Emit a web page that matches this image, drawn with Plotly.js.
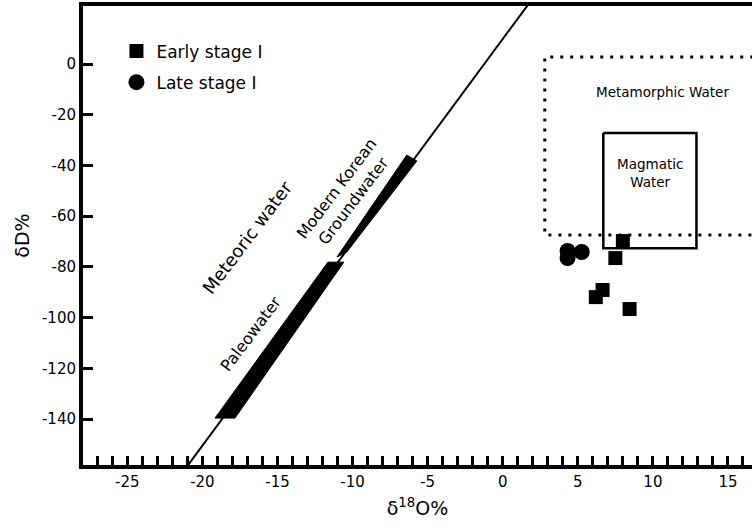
<!DOCTYPE html>
<html>
<head>
<meta charset="utf-8">
<script src="https://cdn.plot.ly/plotly-3.0.1.min.js"></script>
<style>html,body{margin:0;padding:0;background:#fff;}#chart{width:754px;height:531px;}</style>
</head>
<body>
<div id="chart"></div>
<script>
// ---- data ----
const earlyX = [8.0, 7.5, 6.65, 6.2, 8.45];
const earlyY = [-69.8, -76.5, -89.1, -91.9, -96.6];
const lateX = [4.32, 4.32, 5.26];
const lateY = [-73.7, -76.5, -74.1];

// meteoric water line end points
const mwlX = [-21.0, 1.7];
const mwlY = [-158.5, 23.5];

// paleowater band outline
const paleoX = [-19.16, -17.83, -10.58, -11.64, -19.16];
const paleoY = [-139.6, -139.6, -78.1, -78.1, -139.6];

// modern Korean groundwater band outline
const modernX = [-11.04, -10.38, -5.72, -6.39, -11.04];
const modernY = [-76.1, -74.1, -38.2, -35.9, -76.1];

// metamorphic water field (dotted)
const metaX = [30, 2.8, 2.8, 30];
const metaY = [2.76, 2.76, -67.4, -67.4];

// magmatic water field
const magX = [6.7, 12.9, 12.9, 6.7, 6.7];
const magY = [-27.2, -27.2, -72.6, -72.6, -27.2];

const yTicks = [0, -20, -40, -60, -80, -100, -120, -140];
const yTickText = ['0', '-20', '-40', '-60', '-80', '-100', '-120', '-140'];
const xTicks = [-25, -20, -15, -10, -5, 0, 5, 10, 15];
const xTickText = ['-25', '-20', '-15', '-10', '-5', '0', '5', '10', '15'];

const FONT = "DejaVu Sans";

const traces = [
  {x: metaX, y: metaY, mode: 'lines', line: {color: '#000', width: 3, dash: '3px,7px'}, showlegend: false, hoverinfo: 'skip'},
  {x: magX, y: magY, mode: 'lines', line: {color: '#000', width: 2.5}, showlegend: false, hoverinfo: 'skip'},
  {x: mwlX, y: mwlY, mode: 'lines', line: {color: '#000', width: 2}, showlegend: false, hoverinfo: 'skip'},
  {x: paleoX, y: paleoY, mode: 'lines', fill: 'toself', fillcolor: '#000', line: {color: '#000', width: 1}, showlegend: false, hoverinfo: 'skip'},
  {x: modernX, y: modernY, mode: 'lines', fill: 'toself', fillcolor: '#000', line: {color: '#000', width: 1}, showlegend: false, hoverinfo: 'skip'},
  {x: earlyX, y: earlyY, mode: 'markers', name: 'Early stage I', legendgroup: 'a',
   marker: {symbol: 'square', size: 14, color: '#000'}},
  {x: lateX, y: lateY, mode: 'markers', name: 'Late stage I', legendgroup: 'b',
   marker: {symbol: 'circle', size: 16, color: '#000'}}
];

const layout = {
  width: 754, height: 531,
  margin: {l: 83, r: 2, t: 6, b: 66},
  paper_bgcolor: '#fff', plot_bgcolor: '#fff',
  font: {family: FONT, color: '#000', size: 15},
  showlegend: true,
  legend: {x: 0.05, y: 0.94, xanchor: 'left', yanchor: 'top', bgcolor: 'rgba(0,0,0,0)',
           font: {size: 17, family: FONT}, traceorder: 'grouped', tracegroupgap: 6},
  xaxis: {
    range: [-27.95, 16.6], tickmode: 'array', tickvals: xTicks, ticktext: xTickText,
    ticks: 'inside', ticklen: 9, tickwidth: 3, tickcolor: '#000',
    minor: {tickmode: 'linear', tick0: 0, dtick: 1, ticks: 'inside', ticklen: 9, tickwidth: 3, tickcolor: '#000'},
    showline: true, linewidth: 4, linecolor: '#000', mirror: true,
    showgrid: false, zeroline: false,
    tickfont: {size: 15},
    title: {text: 'δ<sup>18</sup>O%', font: {size: 19}, standoff: 13}
  },
  yaxis: {
    range: [-158.1, 22.9], tickmode: 'array', tickvals: yTicks, ticktext: yTickText,
    ticks: 'inside', ticklen: 10, tickwidth: 3, tickcolor: '#000',
    showline: true, linewidth: 4, linecolor: '#000',
    showgrid: false, zeroline: false,
    tickfont: {size: 15},
    title: {text: 'δD%', font: {size: 19}, standoff: 8}
  },
  annotations: [
    {x: -17.03, y: -68.2, text: 'Meteoric water', textangle: -53, showarrow: false, font: {size: 18}},
    {x: -16.77, y: -106.1, text: 'Paleowater', textangle: -53, showarrow: false, font: {size: 16}},
    {x: -10.5, y: -51.7, text: 'Modern Korean<br>Groundwater', textangle: -53, showarrow: false, font: {size: 16}},
    {x: 10.65, y: -11.0, text: 'Metamorphic Water', showarrow: false, font: {size: 13.5}},
    {x: 9.78, y: -43.0, text: 'Magmatic<br>Water', showarrow: false, font: {size: 13.5}}
  ]
};

Plotly.newPlot('chart', traces, layout, {displayModeBar: false, staticPlot: true});
</script>
</body>
</html>
